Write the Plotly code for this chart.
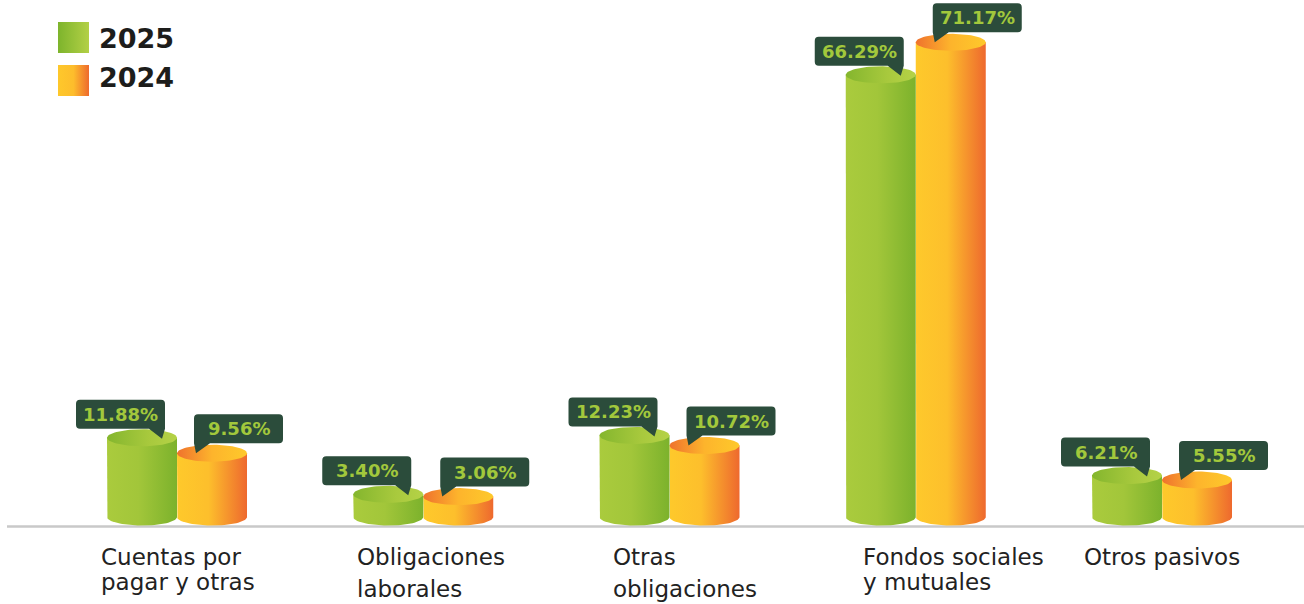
import numpy as np
import plotly.graph_objects as go

# ---------------- data ----------------
categories = [
    ["Cuentas por", "pagar y otras"],
    ["Obligaciones", "laborales"],
    ["Otras", "obligaciones"],
    ["Fondos sociales", "y mutuales"],
    ["Otros pasivos"],
]
series_names = ["2025", "2024"]
values_2025 = [11.88, 3.40, 12.23, 66.29, 6.21]
values_2024 = [9.56, 3.06, 10.72, 71.17, 5.55]

# ---------------- layout constants ----------------
W, H = 1304, 604
M_L, M_R, M_T, M_B = 0, 0, 0, 60
PW, PH = W - M_L - M_R, H - M_T - M_B
ZERO_PX = 517          # pixel row of value 0 (from top)
PPU_Y = 6.67           # pixels per percentage point
FIRST_PX = 177         # pixel column of first group centre
STEP_PX = 246.25       # pixels between groups

X_MIN = -FIRST_PX / STEP_PX
X_MAX = (PW - FIRST_PX) / STEP_PX
Y_MIN = -(PH - ZERO_PX) / PPU_Y
Y_MAX = ZERO_PX / PPU_Y


def dx(px):
    return px / STEP_PX


def dy(px):
    return px / PPU_Y


HALF_W = 35   # px
RY = 8.5      # px

GREEN_BODY = [[0, "#aacb3d"], [0.45, "#a2c63a"], [1, "#7cb22c"]]
GREEN_TOP = [[0, "#84b62e"], [0.6, "#a8c93d"], [1, "#b5d247"]]
ORANGE_BODY = [[0, "#fec92b"], [0.45, "#fdbf2c"], [1, "#ee692e"]]
ORANGE_TOP = [[0, "#ef722d"], [0.5, "#fdb42c"], [1, "#fec92b"]]

BOX_FILL = "#2b4c3b"
BOX_TEXT = "#a2c83c"

LABEL_XSHIFT = [-78, -68, -59, -55, -80]
LINE1_Y = 557
LINE2_Y = [582, 589, 589, 582, None]

fig = go.Figure()


def cylinder(xc, v, body_cs, top_cs):
    hw = dx(HALF_W)
    ry = dy(RY)
    t = np.linspace(np.pi, 2 * np.pi, 40)
    bx = [xc - hw, xc - hw] + list(xc + hw * np.cos(t)) + [xc + hw, xc - hw]
    by = [v, 0] + list(ry * np.sin(t)) + [v, v]
    fig.add_trace(go.Scatter(
        x=bx, y=by, mode="lines", line=dict(width=0), fill="toself",
        fillgradient=dict(type="horizontal", colorscale=body_cs),
        hoverinfo="skip", showlegend=False))
    t2 = np.linspace(0, 2 * np.pi, 80)
    fig.add_trace(go.Scatter(
        x=list(xc + hw * np.cos(t2)), y=list(v + ry * np.sin(t2)),
        mode="lines", line=dict(width=0), fill="toself",
        fillgradient=dict(type="horizontal", colorscale=top_cs),
        hoverinfo="skip", showlegend=False))


shapes = []
annotations = []


def rounded_box_path(L, R, B, T, r, tail):
    if tail == "right":
        return (f"M {L+r},{T} L {R-r},{T} Q {R},{T} {R},{T-r} L {R},{B} "
                f"L {R-3},{-1} L {R-16},{B} L {L+r},{B} Q {L},{B} {L},{B+r} "
                f"L {L},{T-r} Q {L},{T} {L+r},{T} Z")
    return (f"M {L+r},{T} L {R-r},{T} Q {R},{T} {R},{T-r} L {R},{B+r} "
            f"Q {R},{B} {R-r},{B} L {L+16},{B} L {L+2},{0} L {L},{B} "
            f"L {L},{T-r} Q {L},{T} {L+r},{T} Z")


def callout(xc, v, side):
    if side == "right":
        L, R, B, T = -66, 23, 9, 38
    else:
        L, R, B, T = -18, 71, 10, 39
    shapes.append(dict(
        type="path", xref="x", yref="y", xsizemode="pixel", ysizemode="pixel",
        xanchor=xc, yanchor=v, path=rounded_box_path(L, R, B, T, 4, side),
        fillcolor=BOX_FILL, line=dict(width=0), layer="above"))
    annotations.append(dict(
        x=xc, y=v, xref="x", yref="y", xshift=(L + R) / 2, yshift=(B + T) / 2,
        text=f"{v:.2f}%", showarrow=False, xanchor="center", yanchor="middle",
        font=dict(family="DejaVu Sans", size=18, color=BOX_TEXT, weight="bold")))


# orange first (behind), green in front
for i, v in enumerate(values_2024):
    cylinder(i + dx(HALF_W), v, ORANGE_BODY, ORANGE_TOP)
for i, v in enumerate(values_2025):
    cylinder(i - dx(HALF_W), v, GREEN_BODY, GREEN_TOP)

for i, v in enumerate(values_2025):
    callout(i - dx(HALF_W), v, "right")
for i, v in enumerate(values_2024):
    callout(i + dx(HALF_W), v, "left")

# baseline
shapes.append(dict(type="line", xref="paper", x0=7 / PW, x1=1, yref="y",
                   ysizemode="pixel", yanchor=0, y0=-9.5, y1=-9.5,
                   line=dict(color="#c9c9c9", width=2.5), layer="below"))

# category labels
for i, lines in enumerate(categories):
    for j, line in enumerate(lines):
        ypx = LINE1_Y if j == 0 else LINE2_Y[i]
        annotations.append(dict(
            x=i, xref="x", xshift=LABEL_XSHIFT[i], xanchor="left",
            y=0, yref="paper", yshift=-(ypx - PH), yanchor="middle",
            text=line, showarrow=False, align="left",
            font=dict(family="DejaVu Sans", size=23, color="#222222")))


# legend (custom swatches with gradient)
def px_x(px):
    return X_MIN + px / STEP_PX


def px_y(py):
    return (ZERO_PX - py) / PPU_Y


legend_items = [
    (series_names[0], [[0, "#7db42c"], [1, "#b3d046"]], 22, 38.5),
    (series_names[1], [[0, "#fec82b"], [0.5, "#fdbd2c"], [1, "#ee6a2d"]], 65, 77.5),
]
for name, cs, top_px, text_px in legend_items:
    x0, x1 = px_x(58), px_x(89)
    y0, y1 = px_y(top_px + 31), px_y(top_px)
    fig.add_trace(go.Scatter(
        x=[x0, x1, x1, x0, x0], y=[y0, y0, y1, y1, y0], mode="lines",
        line=dict(width=0), fill="toself",
        fillgradient=dict(type="horizontal", colorscale=cs),
        hoverinfo="skip", showlegend=False))
    annotations.append(dict(
        x=97 / PW, xref="paper", xanchor="left",
        y=1 - text_px / PH, yref="paper", yanchor="middle",
        text=name, showarrow=False,
        font=dict(family="DejaVu Sans", size=27, color="#1d1d1b", weight="bold")))

fig.update_layout(
    width=W, height=H,
    margin=dict(l=M_L, r=M_R, t=M_T, b=M_B),
    paper_bgcolor="white", plot_bgcolor="white",
    showlegend=False,
    xaxis=dict(range=[X_MIN, X_MAX], visible=False, fixedrange=True),
    yaxis=dict(range=[Y_MIN, Y_MAX], visible=False, fixedrange=True),
    shapes=shapes, annotations=annotations,
)

fig.write_html(
    "out.html",
    config={"displayModeBar": False},
    post_script="document.body.style.margin='0';document.body.style.overflow='hidden';",
)
